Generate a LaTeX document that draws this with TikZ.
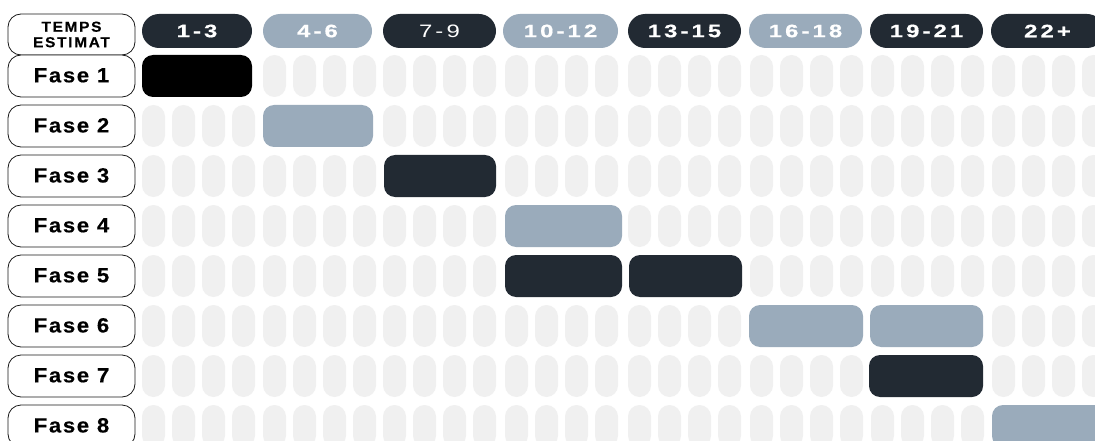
\documentclass[tikz,border=0pt]{standalone}
\usepackage{fontspec}
\setmainfont{Liberation Sans}
\newfontfamily\hfont[FakeStretch=1.33,LetterSpace=17,FakeBold=0.6]{Liberation Sans}
\newfontfamily\hlfont[FakeStretch=1.33,LetterSpace=17]{Liberation Sans}
\newfontfamily\ffont[FakeStretch=1.08,LetterSpace=8,FakeBold=0.4]{Liberation Sans}
\newfontfamily\tfont[FakeStretch=1.06,LetterSpace=12,FakeBold=0.3]{Liberation Sans}
\definecolor{darkc}{HTML}{222A33}
\definecolor{lightc}{HTML}{9AABBB}
\definecolor{pillc}{HTML}{F0F0F0}
\begin{document}
\begin{tikzpicture}[x=1pt,y=-1pt,
  lbl/.style={draw=black!90, line width=0.8pt, rounded corners=13pt, fill=white,
    minimum width=127pt, minimum height=42pt, inner sep=0pt,
    font=\ffont\bfseries\fontsize{20.5}{22}\selectfont},
  hdr/.style={rounded corners=17pt, minimum height=34pt, inner sep=0pt, text=white,
    font=\hfont\bfseries\fontsize{18}{20}\selectfont},
  bar/.style={rounded corners=11pt, minimum height=42pt, inner sep=0pt},
  pill/.style={fill=pillc, rounded corners=11.5pt}
]
\clip (0,0) rectangle (1095,441);
\fill[white] (0,0) rectangle (1095,441);

% background pills
\foreach \r/\a/\b in {1/0/0, 2/1/1, 3/2/2, 4/3/3, 5/3/4, 6/5/6, 7/6/6, 8/7/7} {
  \foreach \g in {0,...,7} {
    \pgfmathtruncatemacro\busy{(\g>=\a)&&(\g<=\b)}
    \ifnum\busy=0
      \pgfmathsetmacro\gx{{142,263,383,505,628,750,871,992}[\g]}
      \foreach \k in {0,...,3} {
        \path[pill] (\gx+30*\k, 5+50*\r) rectangle ++(23,42);
      }
    \fi
  }
}

% header label
\node[lbl, minimum height=41pt, align=center,
  font=\tfont\bfseries\fontsize{14.5}{15.5}\selectfont] (tmp) at (71.5,34.5) {TEMPS\\ESTIMAT};

% header pills
\node[hdr, fill=darkc,  minimum width=110pt] (h1) at (197,31) {1-3};
\node[hdr, fill=lightc, minimum width=109pt] (h2) at (317.5,31) {4-6};
\node[hdr, fill=darkc,  minimum width=113pt, font=\hlfont\fontsize{18}{20}\selectfont] (h3) at (439.5,31) {7-9};
\node[hdr, fill=lightc, minimum width=115pt] (h4) at (560.5,31) {10-12};
\node[hdr, fill=darkc,  minimum width=113pt] (h5) at (684.5,31) {13-15};
\node[hdr, fill=lightc, minimum width=113pt] (h6) at (805.5,31) {16-18};
\node[hdr, fill=darkc,  minimum width=113pt] (h7) at (926.5,31) {19-21};
\node[hdr, fill=darkc,  minimum width=113pt] (h8) at (1047.5,31) {22+};

% phase labels
\foreach \r in {1,...,8} {
  \node[lbl] (f\r) at (71.5,26+50*\r) {\raisebox{1.5pt}{Fase \r}};
}

% bars
\node[bar, fill=black,  minimum width=110pt] (b1)  at (197,76) {};
\node[bar, fill=lightc, minimum width=110pt] (b2)  at (318,126) {};
\node[bar, fill=darkc,  minimum width=112pt] (b3)  at (440,176) {};
\node[bar, fill=lightc, minimum width=117pt] (b4)  at (563.5,226) {};
\node[bar, fill=darkc,  minimum width=117pt] (b5a) at (563.5,276) {};
\node[bar, fill=darkc,  minimum width=113pt] (b5b) at (685.5,276) {};
\node[bar, fill=lightc, minimum width=114pt] (b6a) at (806,326) {};
\node[bar, fill=lightc, minimum width=113pt] (b6b) at (926.5,326) {};
\node[bar, fill=darkc,  minimum width=114pt] (b7)  at (926,376) {};
\node[bar, fill=lightc, minimum width=114pt] (b8)  at (1049,426) {};
\end{tikzpicture}
\end{document}
